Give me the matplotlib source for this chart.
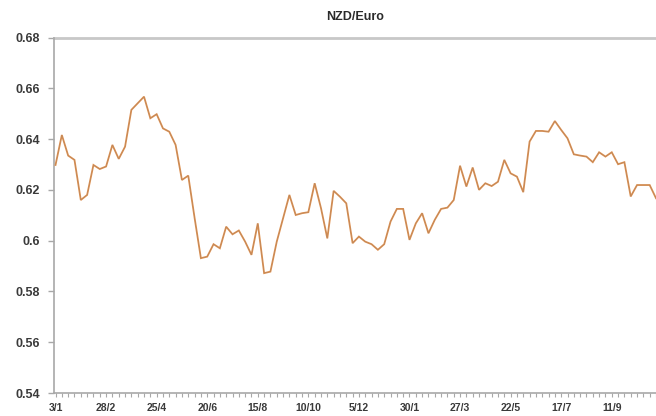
import matplotlib
matplotlib.use("Agg")
import matplotlib.pyplot as plt
from matplotlib.ticker import FixedLocator, MultipleLocator

title = "NZD/Euro"
values = [
    0.6298, 0.6416, 0.6335, 0.6318, 0.6160, 0.6180, 0.6298, 0.6282, 0.6292, 0.6377,
    0.6322, 0.6370, 0.6515, 0.6541, 0.6567, 0.6482, 0.6498, 0.6442, 0.6429, 0.6377,
    0.6239, 0.6256, 0.6090, 0.5931, 0.5937, 0.5986, 0.5970, 0.6055, 0.6025, 0.6040,
    0.5996, 0.5944, 0.6068, 0.5872, 0.5878, 0.5996, 0.6088, 0.6180, 0.6101, 0.6108,
    0.6112, 0.6226, 0.6128, 0.6009, 0.6196, 0.6173, 0.6147, 0.5990, 0.6016, 0.5996,
    0.5986, 0.5964, 0.5986, 0.6075, 0.6125, 0.6125, 0.6003, 0.6068, 0.6108, 0.6029,
    0.6082, 0.6125, 0.6130, 0.6160, 0.6295, 0.6213, 0.6288, 0.6200, 0.6226, 0.6215,
    0.6232, 0.6318, 0.6265, 0.6252, 0.6191, 0.6390, 0.6432, 0.6432, 0.6429, 0.6471,
    0.6436, 0.6403, 0.6340, 0.6335, 0.6331, 0.6309, 0.6348, 0.6331, 0.6348, 0.6301,
    0.6309, 0.6174, 0.6219, 0.6219, 0.6219, 0.6167,
]
x_tick_labels = ["3/1", "28/2", "25/4", "20/6", "15/8", "10/10", "5/12",
                 "30/1", "27/3", "22/5", "17/7", "11/9"]
y_ticks = [0.54, 0.56, 0.58, 0.60, 0.62, 0.64, 0.66, 0.68]
y_tick_labels = ["0.54", "0.56", "0.58", "0.6", "0.62", "0.64", "0.66", "0.68"]
label_step = 8

plt.rcParams['font.family'] = ['Liberation Sans', 'DejaVu Sans']
plt.rcParams['font.weight'] = 'bold'

fig = plt.figure(figsize=(6.56, 4.16), dpi=100)
ax = fig.add_axes([54/656, 23/416, 602/656, 355.5/416])

xs = list(range(len(values)))
ax.plot(xs, values, color='#e0914f', lw=1.3, solid_joinstyle='miter', zorder=3)
ax.plot(xs, values, color='#8a7a70', lw=0.4, alpha=0.5, zorder=4)

ax.set_ylim(0.54, 0.68)
ax.set_xlim(-0.24, 95.0)

ax.axhline(0.68, color='#c8c8c8', lw=2.0, zorder=2, clip_on=False)

for s in ['top', 'right']:
    ax.spines[s].set_visible(False)
for s in ['left', 'bottom']:
    ax.spines[s].set_color('#a8a8a8')
    ax.spines[s].set_linewidth(1.2)

ax.yaxis.set_major_locator(FixedLocator(y_ticks))
ax.set_yticklabels(y_tick_labels)
ax.xaxis.set_major_locator(FixedLocator([i * label_step for i in range(len(x_tick_labels))]))
ax.set_xticklabels(x_tick_labels)
ax.xaxis.set_minor_locator(MultipleLocator(1))

ax.tick_params(axis='y', direction='out', length=4, width=1, color='#a8a8a8',
               labelsize=9, labelcolor='#3a3a3a', pad=6)
ax.tick_params(axis='x', which='major', direction='out', length=3, width=0.8, color='#a8a8a8',
               labelsize=7.5, labelcolor='#3a3a3a', pad=4)
ax.tick_params(axis='x', which='minor', direction='out', length=3, width=0.8, color='#a8a8a8')

fig.text((54 + 656) / 2 / 656, 1 - 17 / 416, title, ha='center', va='center',
         fontsize=9, color='#2a2a2a', fontweight='bold')

fig.savefig("out.png", dpi=100)
